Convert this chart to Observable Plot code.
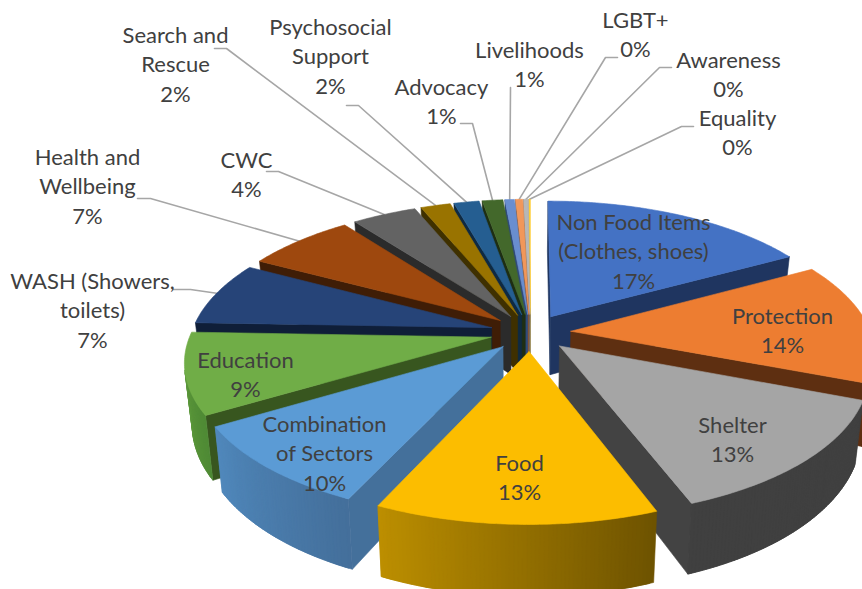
<!DOCTYPE html>
<html>
<head>
<meta charset="utf-8">
<style>html,body{margin:0;padding:0;background:#fff;overflow:hidden}svg{display:block}</style>
<script src="https://cdn.jsdelivr.net/npm/d3@7"></script>
<script src="https://cdn.jsdelivr.net/npm/@observablehq/plot@0.6"></script>
</head>
<body>
<script>
// Data
const sectors = ["Non Food Items\n(Clothes, shoes)","Protection","Shelter","Food","Combination\nof Sectors","Education","WASH (Showers,\ntoilets)","Health and\nWellbeing","CWC","Search and\nRescue","Psychosocial\nSupport","Advocacy","Livelihoods","LGBT+","Awareness","Equality"];
const shares = [17.0,13.85,13.4,12.65,9.53,9.16,7.26,6.85,4.08,1.89,1.6,1.3,0.6,0.45,0.3,0.1];
const shareLabels = [17,14,13,13,10,9,7,7,4,2,2,1,1,0,0,0];
// Colours
const topColors = ["#4472C4","#ED7D31","#A5A5A5","#FCBD00","#5B9BD5","#70AD47","#264478","#9E480E","#636363","#997300","#255E91","#43682B","#698ED0","#F1975A","#B7B7B7","#FFCD33"];
const cutColors = ["#1F3560","#5E2F11","#434343","#8A6A00","#44709B","#38561F","#0F1E38","#3F1D06","#2B2B2B","#3F3000","#0F2A42","#1E2E13","#2F4A7A","#8A5530","#6A6A6A","#8A7020"];
const wallStart = ["#1F3560","#5E2F11","#404040","#6E5300","#446F9B","#4F8A35","#0F1E38","#3F1D06","#2B2B2B","#3F3000","#0F2A42","#1E2E13","#2F4A7A","#8A5530","#6A6A6A","#8A7020"];
const wallEnd   = ["#1F3560","#5E2F11","#404040","#BD8F00","#5088BC","#66A33F","#0F1E38","#3F1D06","#2B2B2B","#3F3000","#0F2A42","#1E2E13","#2F4A7A","#8A5530","#6A6A6A","#8A7020"];
// Where the labels sit (pixel centre of the text block) and elbows of the leaders
const labelX = [633,782,732,519,324,245,92,87,246,175,330,441,529,635,728,737];
const labelY = [249.5,328.5,437.5,475.5,451.5,372.5,308.5,184.5,172.5,62.5,54.5,99.5,62.5,32.5,72.5,130.5];
const leaderStart = [null,null,null,null,null,null,[172,289],[137,198],[266,171],[214,48],[346,105],[460,123],[510,87],[617,57],[671,67],[693,126]];
const leaderElbow = [null,null,null,null,null,null,[190,289],[150,198],[278,171],[226,48],[358,105],[472,123],null,[605,57],[659,67],[681,126]];

// View: a tilted pie seen with perspective, in units of one pie radius
const originX = 530, originY = 332, pxPerUnit = 300;
const tilt = 0.462, persp = 0.159, depth = 0.197, converge = 0.023, explode = 0.135, vanishX = -0.03;
const toX = px => (px - originX) / pxPerUnit;
const toY = px => (px - originY) / pxPerUnit;
function project(gx, gy) {           // gy > 0 is toward the viewer
  const p = 1 / (1 - persp * gy);
  return {x: gx * p, y: gy * tilt * p, p};
}
const lower = q => ({x: vanishX + (q.x - vanishX) * (1 - converge), y: q.y + depth * q.p});
const area = pts => d3.polygonArea(pts.map(q => [q.x, q.y]));

const arcs = d3.pie().sort(null).startAngle(0).endAngle(2 * Math.PI)(shares);
const rows = [];
function addPoly(id, pts, fill) { [...pts, pts[0]].forEach(q => rows.push({id, x: q.x, y: q.y, fill})); }

const slices = arcs.map((a, i) => {
  const mid = (a.startAngle + a.endAngle) / 2;
  const ax = explode * Math.sin(mid), ay = -explode * Math.cos(mid);
  const rim = t => project(ax + Math.sin(t), ay - Math.cos(t));
  return {i, a, mid, apex: project(ax, ay), rim};
});

// back slices first
[...slices].sort((p, q) => -Math.cos(p.mid) - -Math.cos(q.mid)).forEach(s => {
  const {i, a, apex, rim} = s;
  const n = Math.max(2, Math.ceil((a.endAngle - a.startAngle) / 0.012));
  const ts = d3.range(n + 1).map(k => a.startAngle + (a.endAngle - a.startAngle) * k / n);
  const edge = ts.map(rim);
  // cut faces, only where they face the viewer
  const startCut = [apex, edge[0], lower(edge[0]), lower(apex)];
  const endCut = [edge[n], apex, lower(apex), lower(edge[n])];
  if (area(startCut) > 0) addPoly(`c${i}a`, startCut, cutColors[i]);
  if (area(endCut) > 0) addPoly(`c${i}b`, endCut, cutColors[i]);
  // outer wall: each strip runs under the next one so no seams show
  const shade = d3.interpolateRgb(wallStart[i], wallEnd[i]);
  for (let k = 0; k < n; k++) {
    const far = Math.min(k + 2, n);
    const quad = [edge[k], edge[k + 1], lower(edge[k + 1]), lower(edge[k])];
    if (area(quad) > 0) {
      const strip = [...edge.slice(k, far + 1), ...edge.slice(k, far + 1).reverse().map(lower)];
      addPoly(`w${i}_${k}`, strip, shade(k / n));
    }
  }
  // top face
  addPoly(`t${i}`, [apex, ...edge], topColors[i]);
});

// Leader lines: from the label to the rim of its slice
const leaders = [];
slices.forEach(s => {
  if (!leaderStart[s.i]) return;
  const end = s.rim(s.mid);
  const path = [leaderStart[s.i], leaderElbow[s.i]].filter(Boolean).map(q => ({x: toX(q[0]), y: toY(q[1])}));
  [...path, end].forEach(q => leaders.push({id: s.i, x: q.x, y: q.y}));
});

const labels = sectors.map((name, i) => ({
  text: `${name}\n${shareLabels[i]}%`, x: toX(labelX[i]), y: toY(labelY[i])
}));

const chart = Plot.plot({
  width: 862, height: 589,
  marginTop: 0, marginRight: 0, marginBottom: 0, marginLeft: 0,
  x: {domain: [toX(0), toX(862)], axis: null},
  y: {domain: [toY(0), toY(589)], range: [0, 589], axis: null},
  color: {type: "identity"},
  style: {background: "#fff"},
  marks: [
    Plot.line(leaders, {x: "x", y: "y", z: "id", stroke: "#A6A6A6", strokeWidth: 1.6}),
    Plot.line(rows, {x: "x", y: "y", z: "id", fill: "fill", stroke: "fill", strokeWidth: 0.6}),
    Plot.text(labels, {x: "x", y: "y", text: "text", fontFamily: "Lato", fontSize: 22, lineHeight: 1.34, fill: "#404040"})
  ]
});
document.body.appendChild(chart);
</script>
</body>
</html>
